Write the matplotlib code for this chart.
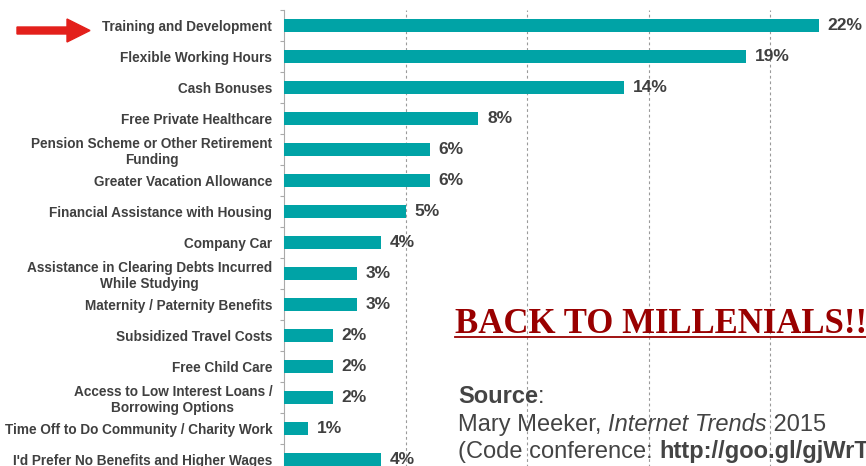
import numpy as np
import matplotlib
matplotlib.use('Agg')
import matplotlib.pyplot as plt
from matplotlib.patches import FancyArrow
from matplotlib.transforms import IdentityTransform

benefits = [
    'Training and Development',
    'Flexible Working Hours',
    'Cash Bonuses',
    'Free Private Healthcare',
    'Pension Scheme or Other Retirement\nFunding',
    'Greater Vacation Allowance',
    'Financial Assistance with Housing',
    'Company Car',
    'Assistance in Clearing Debts Incurred\nWhile Studying',
    'Maternity / Paternity Benefits',
    'Subsidized Travel Costs',
    'Free Child Care',
    'Access to Low Interest Loans /\nBorrowing Options',
    'Time Off to Do Community / Charity Work',
    "I'd Prefer No Benefits and Higher Wages",
]
shares = [22, 19, 14, 8, 6, 6, 5, 4, 3, 3, 2, 2, 2, 1, 4]
grid_ticks = [5, 10, 15, 20]

TEAL = '#00a3a6'
GREY_TXT = '#404040'

plt.rcParams['font.family'] = ['Liberation Sans', 'DejaVu Sans']

W, H = 866, 466
fig = plt.figure(figsize=(W / 100, H / 100), dpi=100)

# axes placed in pixels: spine at x=284, rows 31 px apart starting y=10
px_per_pct = 24.3
xmax = 24.0
top_px, bot_px = 10, 10 + 31 * len(benefits)
ax = fig.add_axes([284 / W, 1 - bot_px / H, xmax * px_per_pct / W, (bot_px - top_px) / H])

y = np.arange(len(benefits))
ax.barh(y, shares, height=0.4, color=TEAL, zorder=3)
ax.set_ylim(len(benefits) - 0.5, -0.5)
ax.set_xlim(0, xmax)

for yi, v in zip(y, shares):
    ax.annotate(f'{v}%', (v, yi), xytext=(9, 0), textcoords='offset pixels',
                va='center', ha='left', fontsize=12.5, fontweight='bold',
                color=GREY_TXT, zorder=4)

ax.set_yticks(y)
ax.set_yticklabels(benefits, fontsize=9.8, fontweight='bold', color=GREY_TXT,
                   multialignment='center', linespacing=1.15)
ax.set_yticks(np.arange(len(benefits) + 1) - 0.5, minor=True)
ax.tick_params(axis='y', which='major', length=0, pad=8.5)
ax.tick_params(axis='y', which='minor', length=3, color='#aaaaaa', width=0.8)

ax.set_xticks(grid_ticks)
ax.tick_params(axis='x', length=0, labelbottom=False)
ax.grid(axis='x', color='#9a9a9a', linestyle=(0, (2.5, 2.5)), linewidth=0.8, zorder=0)

for s in ['top', 'right', 'bottom']:
    ax.spines[s].set_visible(False)
ax.spines['left'].set_color('#aaaaaa')
ax.spines['left'].set_linewidth(0.8)

# red arrow pointing at the top row
arrow = FancyArrow(17, H - 30.5, 73, 0, width=7, head_width=23, head_length=23,
                   length_includes_head=True, color='#e3201b',
                   transform=IdentityTransform())
fig.patches.append(arrow)

# headline
fig.text(455 / W, 1 - 333 / H, 'BACK TO MILLENIALS!!', family=['Liberation Serif', 'DejaVu Serif'],
         fontweight='bold', fontsize=25, color='#990000', va='baseline', ha='left')
fig.add_artist(plt.Line2D([455 / W, 1.0], [1 - 337 / H, 1 - 337 / H], color='#990000', lw=1.3))

# source block, pieces with mixed styles laid one after another
SRC_GREY = '#444444'
fs = 17
r = fig.canvas.get_renderer()

def chain(x0, y0, parts):
    x = x0
    for txt, kw in parts:
        tt = fig.text(x / W, 1 - y0 / H, txt, fontsize=fs, color=SRC_GREY, va='baseline', **kw)
        x = tt.get_window_extent(renderer=r).x1

chain(458, 403, [('Source', dict(fontweight='bold')), (':', {})])
chain(458, 431, [('Mary Meeker, ', {}), ('Internet Trends', dict(style='italic')), (' 2015', {})])
chain(458, 458, [('(Code conference: ', {}), ('http://goo.gl/gjWrTz)', dict(fontweight='bold'))])

fig.savefig('out.png', dpi=100)
